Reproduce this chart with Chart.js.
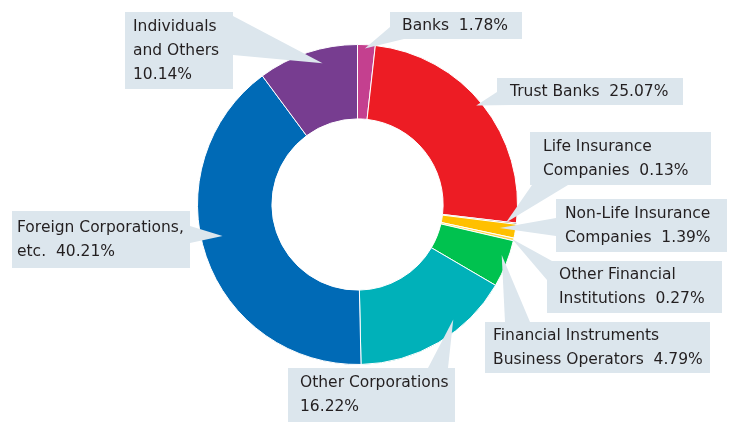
<!DOCTYPE html>
<html>
<head>
<meta charset="utf-8">
<script src="https://cdn.jsdelivr.net/npm/chart.js@4/dist/chart.umd.min.js"></script>
<style>
  html, body { margin: 0; padding: 0; background: #fff; }
  #wrap { width: 739px; height: 425px; position: relative; }
</style>
</head>
<body>
<div id="wrap"><canvas id="shareChart"></canvas></div>
<script>
// data
const categories = [
  "Banks",
  "Trust Banks",
  "Life Insurance\nCompanies",
  "Non-Life Insurance\nCompanies",
  "Other Financial\nInstitutions",
  "Financial Instruments\nBusiness Operators",
  "Other Corporations",
  "Foreign Corporations,\netc.",
  "Individuals\nand Others",
];
const shares = [1.78, 25.07, 0.13, 1.39, 0.27, 4.79, 16.22, 40.21, 10.14];
const sliceColors = [
  "#c4408f",
  "#ed1c24",
  "#333333",
  "#ffc000",
  "#ffd84a",
  "#00c24f",
  "#00b1b9",
  "#006ab6",
  "#773d90",
];

// callout layout: box, text start, pointer base on the box, tip inside slice
const callouts = [
  { box: [390, 12, 132, 27], tx: 402, base: [[390, 27], [404, 39]], t: 0.42, r: 0.976 },
  { box: [497, 78, 186, 27], tx: 510, base: [[497, 92], [512, 105]], t: 0.485, r: 0.966 },
  { box: [530, 132, 181, 53], tx: 543, base: [[532, 185], [568, 185]], t: 0.5, r: 0.935 },
  { box: [556, 199, 171, 53], tx: 565, base: [[556, 218], [556, 236]], t: 0.45, r: 0.9 },
  { box: [547, 261, 175, 52], tx: 559, base: [[552, 261], [547, 280]], t: 0.5, r: 0.99 },
  { box: [485, 322, 225, 51], tx: 493, base: [[505, 322], [530, 322]], t: 0.36, r: 0.955 },
  { box: [288, 368, 167, 54], tx: 300, base: [[428, 368], [448, 368]], t: 0.34, r: 0.935, ownLine: true },
  { box: [12, 211, 178, 57], tx: 17, base: [[190, 226], [190, 243]], t: 0.54, r: 0.866 },
  { box: [125, 12, 108, 77], tx: 133, base: [[233, 16], [233, 55]], t: 0.62, r: 0.91, ownLine: true },
];

function labelLines(i) {
  const lines = categories[i].split("\n");
  const pct = shares[i].toFixed(2) + "%";
  if (callouts[i].ownLine) lines.push(pct);
  else lines[lines.length - 1] += "  " + pct;
  return lines;
}

const calloutPlugin = {
  id: "calloutPlugin",
  afterDatasetsDraw(chart) {
    const { ctx } = chart;
    const arcs = chart.getDatasetMeta(0).data;
    ctx.save();
    ctx.fillStyle = "#dce6ed";
    callouts.forEach((c, i) => {
      const arc = arcs[i];
      const a = arc.startAngle + c.t * (arc.endAngle - arc.startAngle);
      const rad = arc.outerRadius * c.r;
      const tipX = arc.x + Math.cos(a) * rad;
      const tipY = arc.y + Math.sin(a) * rad;
      ctx.beginPath();
      ctx.moveTo(c.base[0][0], c.base[0][1]);
      ctx.lineTo(tipX, tipY);
      ctx.lineTo(c.base[1][0], c.base[1][1]);
      ctx.closePath();
      ctx.fill();
      ctx.fillRect(c.box[0], c.box[1], c.box[2], c.box[3]);
    });
    ctx.fillStyle = "#231f20";
    ctx.font = "15.5px 'DejaVu Sans'";
    ctx.textAlign = "left";
    ctx.textBaseline = "middle";
    callouts.forEach((c, i) => {
      const lines = labelLines(i);
      const mid = c.box[1] + c.box[3] / 2;
      const lh = 24;
      lines.forEach((ln, k) => {
        ctx.fillText(ln, c.tx, mid + (k - (lines.length - 1) / 2) * lh);
      });
    });
    ctx.restore();
  },
};

new Chart(document.getElementById("shareChart"), {
  type: "doughnut",
  data: {
    labels: categories,
    datasets: [
      {
        data: shares,
        backgroundColor: sliceColors,
        borderColor: "#ffffff",
        borderWidth: 1,
      },
    ],
  },
  options: {
    responsive: true,
    maintainAspectRatio: false,
    animation: false,
    cutout: "53.5%",
    layout: { padding: { left: 197, right: 221, top: 44, bottom: 60 } },
    plugins: {
      legend: { display: false },
      tooltip: { enabled: false },
    },
  },
  plugins: [calloutPlugin],
});
</script>
</body>
</html>
